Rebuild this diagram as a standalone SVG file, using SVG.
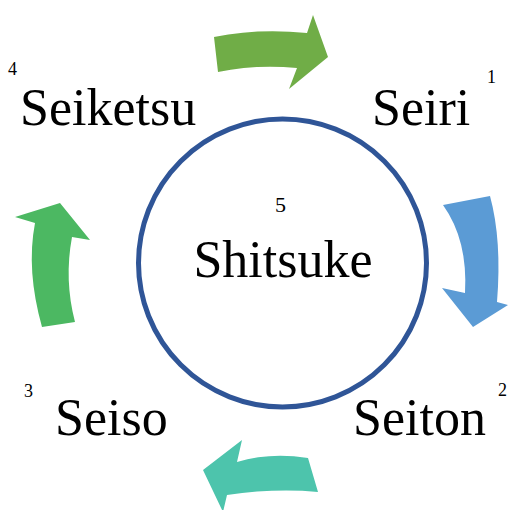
<svg xmlns="http://www.w3.org/2000/svg" width="508" height="510" viewBox="0 0 508 510">
<style>
.lbl{font-family:"Liberation Serif","Times New Roman",serif;font-size:52px;fill:#000}
.num{font-family:"Liberation Serif","Times New Roman",serif;font-size:18px;fill:#000}
</style>
<rect width="508" height="510" fill="#fff"/>
<g id="connectors">
<path id="arrow-1-2" d="M443,205 Q468,240 465,293 L442,288 L473,327 L508,305 L497,302 Q502,240 490,196 Z" fill="#5B9BD5"/>
<path id="arrow-2-3" d="M308,458 Q270,452 237,462 L242,440 L203,470 L223,512 L227,495 Q275,488 318,492 Z" fill="#4DC4AC"/>
<path id="arrow-3-4" d="M42,327 Q26,270 35,223 L15,217 L60,203 L90,240 L72,237 Q64,280 75,322 Z" fill="#4CB862"/>
<path id="arrow-4-1" d="M214,37 Q258,28 307,33 L313,15 L328,57 L289,89 L297,68 Q256,64 218,72 Z" fill="#70AD47"/>
</g>
<g id="node-5">
<circle cx="282.5" cy="263" r="144" fill="none" stroke="#2F5597" stroke-width="5"/>
<text class="num" x="275" y="212" style="font-size:22px">5</text>
<text class="lbl" x="283" y="277" text-anchor="middle">Shitsuke</text>
</g>
<g id="node-1">
<text class="lbl" x="372" y="125">Seiri</text>
<text class="num" x="487" y="83">1</text>
</g>
<g id="node-2">
<text class="lbl" x="353" y="435">Seiton</text>
<text class="num" x="498" y="396">2</text>
</g>
<g id="node-3">
<text class="lbl" x="55" y="435">Seiso</text>
<text class="num" x="24" y="397">3</text>
</g>
<g id="node-4">
<text class="num" x="8" y="75">4</text>
<text class="lbl" x="20" y="125">Seiketsu</text>
</g>
</svg>
